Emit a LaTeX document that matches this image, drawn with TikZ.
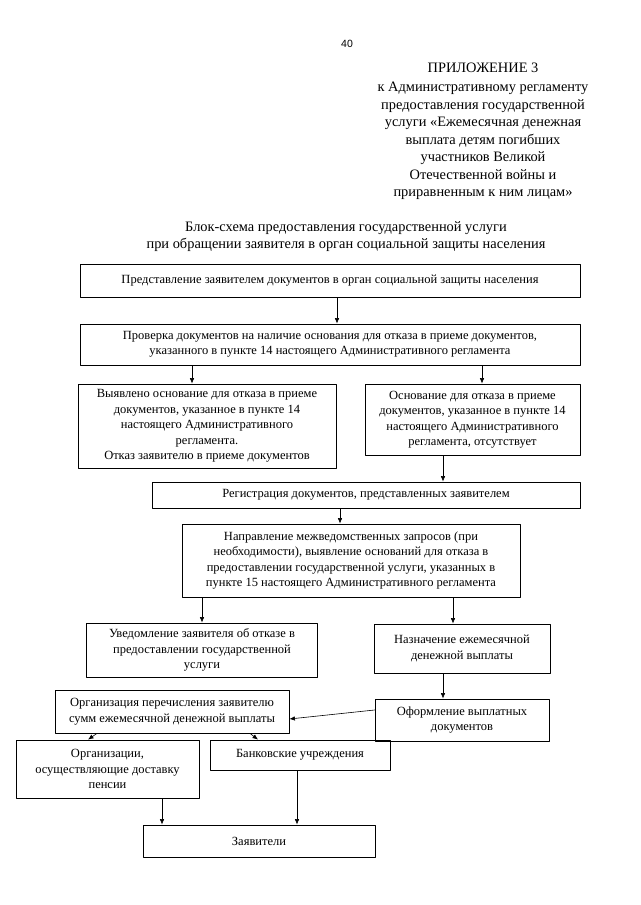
\documentclass[tikz,border=0pt]{standalone}
\usepackage{fontspec}
\setmainfont{Liberation Serif}
\newfontfamily\numfont{Liberation Sans}
\usetikzlibrary{arrows.meta}
\begin{document}
\begin{tikzpicture}[x=1pt, y=-1pt, line join=round, line cap=round,
		head/.style={align=center, font=\fontsize{14.4}{17.5}\selectfont},
		box/.style={draw, line width=0.8pt, align=center, inner sep=1pt, font=\fontsize{12.5}{15.5}\selectfont},
		arr/.style={-{Latex[length=5.5pt,width=4.5pt]}, line width=0.6pt}]
	\useasboundingbox (0,0) rectangle (640,905);
	% page header
	\node[font=\numfont\fontsize{10.5}{12}\selectfont] (pnum) at (347,44) {40};
	\node[head] (appx) at (483,131.5) {ПРИЛОЖЕНИЕ 3\\[1.5pt]к Административному регламенту\\предоставления государственной\\услуги «Ежемесячная денежная\\выплата детям погибших\\участников Великой\\Отечественной войны и\\приравненным к ним лицам»};
	\node[head] (title) at (346,236.5) {Блок-схема предоставления государственной услуги\\при обращении заявителя в орган социальной защиты населения};
	% boxes
	\node[box, minimum width=500, minimum height=33] (b1) at (330,280.5) {Представление заявителем документов в орган социальной защиты населения};
	\node[box, minimum width=500, minimum height=41] (b2) at (330,344.5) {Проверка документов на наличие основания для отказа в приеме документов,\\указанного в пункте 14 настоящего Административного регламента};
	\node[box, minimum width=258, minimum height=84] (b3l) at (207,426) {Выявлено основание для отказа в приеме\\документов, указанное в пункте 14\\настоящего Административного\\регламента.\\Отказ заявителю в приеме документов};
	\node[box, minimum width=215, minimum height=71] (b3r) at (472.5,419.5) {Основание для отказа в приеме\\документов, указанное в пункте 14\\настоящего Административного\\регламента, отсутствует};
	\node[box, minimum width=428, minimum height=26] (b4) at (366,495) {Регистрация документов, представленных заявителем};
	\node[box, minimum width=338, minimum height=73] (b5) at (351,560.5) {Направление межведомственных запросов (при\\необходимости), выявление оснований для отказа в\\предоставлении государственной услуги, указанных в\\пункте 15 настоящего Административного регламента};
	\node[box, minimum width=231, minimum height=54] (b6l) at (202,650) {Уведомление заявителя об отказе в\\предоставлении государственной\\услуги};
	\node[box, minimum width=176, minimum height=49] (b6r) at (462,648.5) {Назначение ежемесячной\\денежной выплаты};
	\node[box, minimum width=174, minimum height=42] (b7r) at (462,720) {Оформление выплатных\\документов};
	\node[box, minimum width=234, minimum height=43] (b7l) at (172,711.5) {Организация перечисления заявителю\\сумм ежемесячной денежной выплаты};
	\node[box, minimum width=183, minimum height=58] (b8l) at (107.5,769) {Организации,\\осуществляющие доставку\\пенсии};
	\node[box, minimum width=180, minimum height=30] (b8r) at (300,755) {Банковские учреждения};
	\node[box, minimum width=232, minimum height=32] (b9) at (259,841) {Заявители};
	% arrows
	\draw[arr] (b1.south -| 337,0) -- (b2.north -| 337,0);
	\draw[arr] (b2.south -| 192,0) -- (b3l.north -| 192,0);
	\draw[arr] (b2.south -| 482,0) -- (b3r.north -| 482,0);
	\draw[arr] (b3r.south -| 443,0) -- (b4.north -| 443,0);
	\draw[arr] (b4.south -| 340,0) -- (b5.north -| 340,0);
	\draw[arr] (b5.south -| 202,0) -- (b6l.north -| 202,0);
	\draw[arr] (b5.south -| 453,0) -- (b6r.north -| 453,0);
	\draw[arr] (b6r.south -| 443,0) -- (b7r.north -| 443,0);
	\draw[arr] (b7r.west |- 0,710) -- (b7l.east |- 0,719);
	\draw[arr] (b7l.south -| 97,0) -- (b8l.north -| 88,0);
	\draw[arr] (b7l.south -| 250,0) -- (b8r.north -| 258,0);
	\draw[arr] (b8l.south -| 162,0) -- (b9.north -| 162,0);
	\draw[arr] (b8r.south -| 297,0) -- (b9.north -| 297,0);
\end{tikzpicture}
\end{document}
